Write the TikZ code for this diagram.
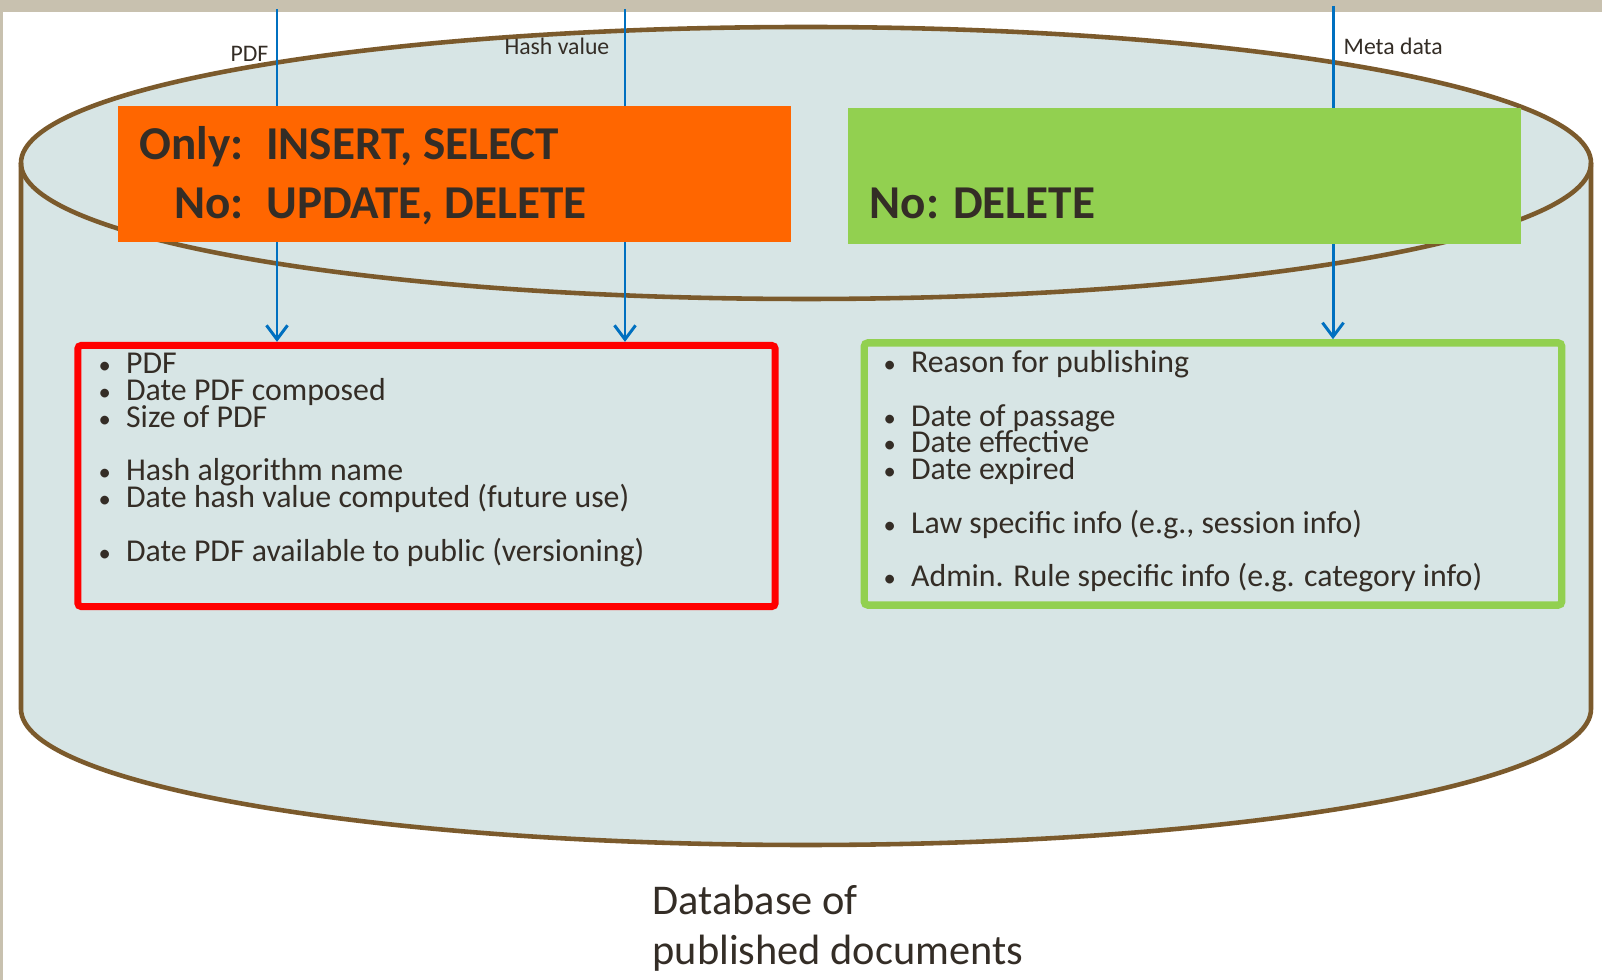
\documentclass[tikz,border=0pt]{standalone}
\usepackage{fontspec}
\setmainfont{Carlito}
\usetikzlibrary{arrows.meta}
\definecolor{framegray}{RGB}{200,193,175}
\definecolor{dbfill}{RGB}{215,229,229}
\definecolor{dbline}{RGB}{123,90,44}
\definecolor{flowblue}{RGB}{0,112,192}
\definecolor{opsorange}{RGB}{255,102,0}
\definecolor{opsgreen}{RGB}{146,208,80}
\definecolor{ink}{RGB}{52,45,38}
\newcommand{\itm}[1]{\makebox[7.8pt][l]{{\fontsize{7}{7}\selectfont\textbullet}}#1}

\begin{document}
\begin{tikzpicture}[x=0.01cm,y=-0.01cm,
  flow/.style={flowblue,line width=0.85pt,-{Straight Barb[length=4pt,width=6pt]}},
  headbox/.style={inner sep=0pt,minimum width=6.73cm,minimum height=1.36cm},
  headtext/.style={anchor=base west,inner sep=0pt,text=ink,font=\bfseries\fontsize{13.4}{16.5}\selectfont},
  listbox/.style={draw,line width=2pt,rounded corners=1pt,inner sep=0pt,minimum width=6.97cm,minimum height=2.61cm},
  tag/.style={font=\fontsize{6.75}{8}\selectfont,text=ink,inner sep=0pt},
  items/.style={font=\fontsize{9.05}{7.6}\selectfont,text=ink,inner sep=0pt,anchor=base west}]
\useasboundingbox (0,0) rectangle (1602,980);
\fill[white] (0,0) rectangle (1602,980);
\fill[framegray] (0,0) rectangle (1602,12);
\fill[framegray] (0,0) rectangle (3,980);
\fill[dbfill] (21,163) -- (21,709) arc[start angle=180,end angle=0,x radius=785,y radius=136] -- (1591,163) arc[start angle=0,end angle=-180,x radius=785,y radius=136] -- cycle;
\draw[dbline,line width=1.3pt] (21,163) -- (21,709) arc[start angle=180,end angle=0,x radius=785,y radius=136] -- (1591,163);
\draw[dbline,line width=1.3pt] (806,163) ellipse[x radius=785,y radius=136];
\coordinate (pdfin) at (277,9);
\coordinate (hashin) at (625,9);
\coordinate (metain) at (1333,6);
\node[listbox,draw=red] (pdfbox) at (426.5,476) {};
\node[listbox,draw=opsgreen,line width=2.1pt,minimum height=2.62cm] (metabox) at (1213,474) {};
\draw[flow] (pdfin) -- (pdfin |- pdfbox.north);
\draw[flow] (hashin) -- (hashin |- pdfbox.north);
\draw[flow] (metain) -- (metain |- metabox.north);
\node[headbox,fill=opsorange] (rules) at (454.5,174) {};
\node[headbox,fill=opsgreen] (norule) at (1184.5,176) {};
\node[headtext] (rulestext) at (139,160) {\begin{tabular}[t]{@{}r@{\hspace{6.4pt}}l@{}}Only: & INSERT, SELECT\\No: & UPDATE, DELETE\end{tabular}};
\node[headtext] (noruletext) at (869,219) {No: DELETE};
\node[tag,anchor=base east] (pdflbl) at (269,62) {PDF};
\node[tag,anchor=base east] (hashlbl) at (610,55) {Hash value};
\node[tag,anchor=base west] (metalbl) at (1343,55) {Meta data};
\node[items] (pdflist) at (98,374) {\parbox[t]{8cm}{\lineskiplimit=-\maxdimen
\itm{PDF}\\
\itm{Date PDF composed}\\
\itm{Size of PDF}\\[7.6pt]
\itm{Hash algorithm name}\\
\itm{Date hash value computed (future use)}\\[7.6pt]
\itm{Date PDF available to public (versioning)}}};
\node[items] (metalist) at (883,372.7) {\parbox[t]{8cm}{\lineskiplimit=-\maxdimen
\itm{Reason for publishing}\\[7.6pt]
\itm{Date of passage}\\
\itm{Date effective}\\
\itm{Date expired}\\[7.6pt]
\itm{Law specific info (e.g., session info)}\\[7.6pt]
\itm{Admin. Rule specific info (e.g. category info)}}};
\node[anchor=base west,inner sep=0pt,text=ink,font=\fontsize{12.05}{14.2}\selectfont] (dblbl) at (652,915) {\parbox[t]{5cm}{Database of\\published documents}};
\end{tikzpicture}
\end{document}
